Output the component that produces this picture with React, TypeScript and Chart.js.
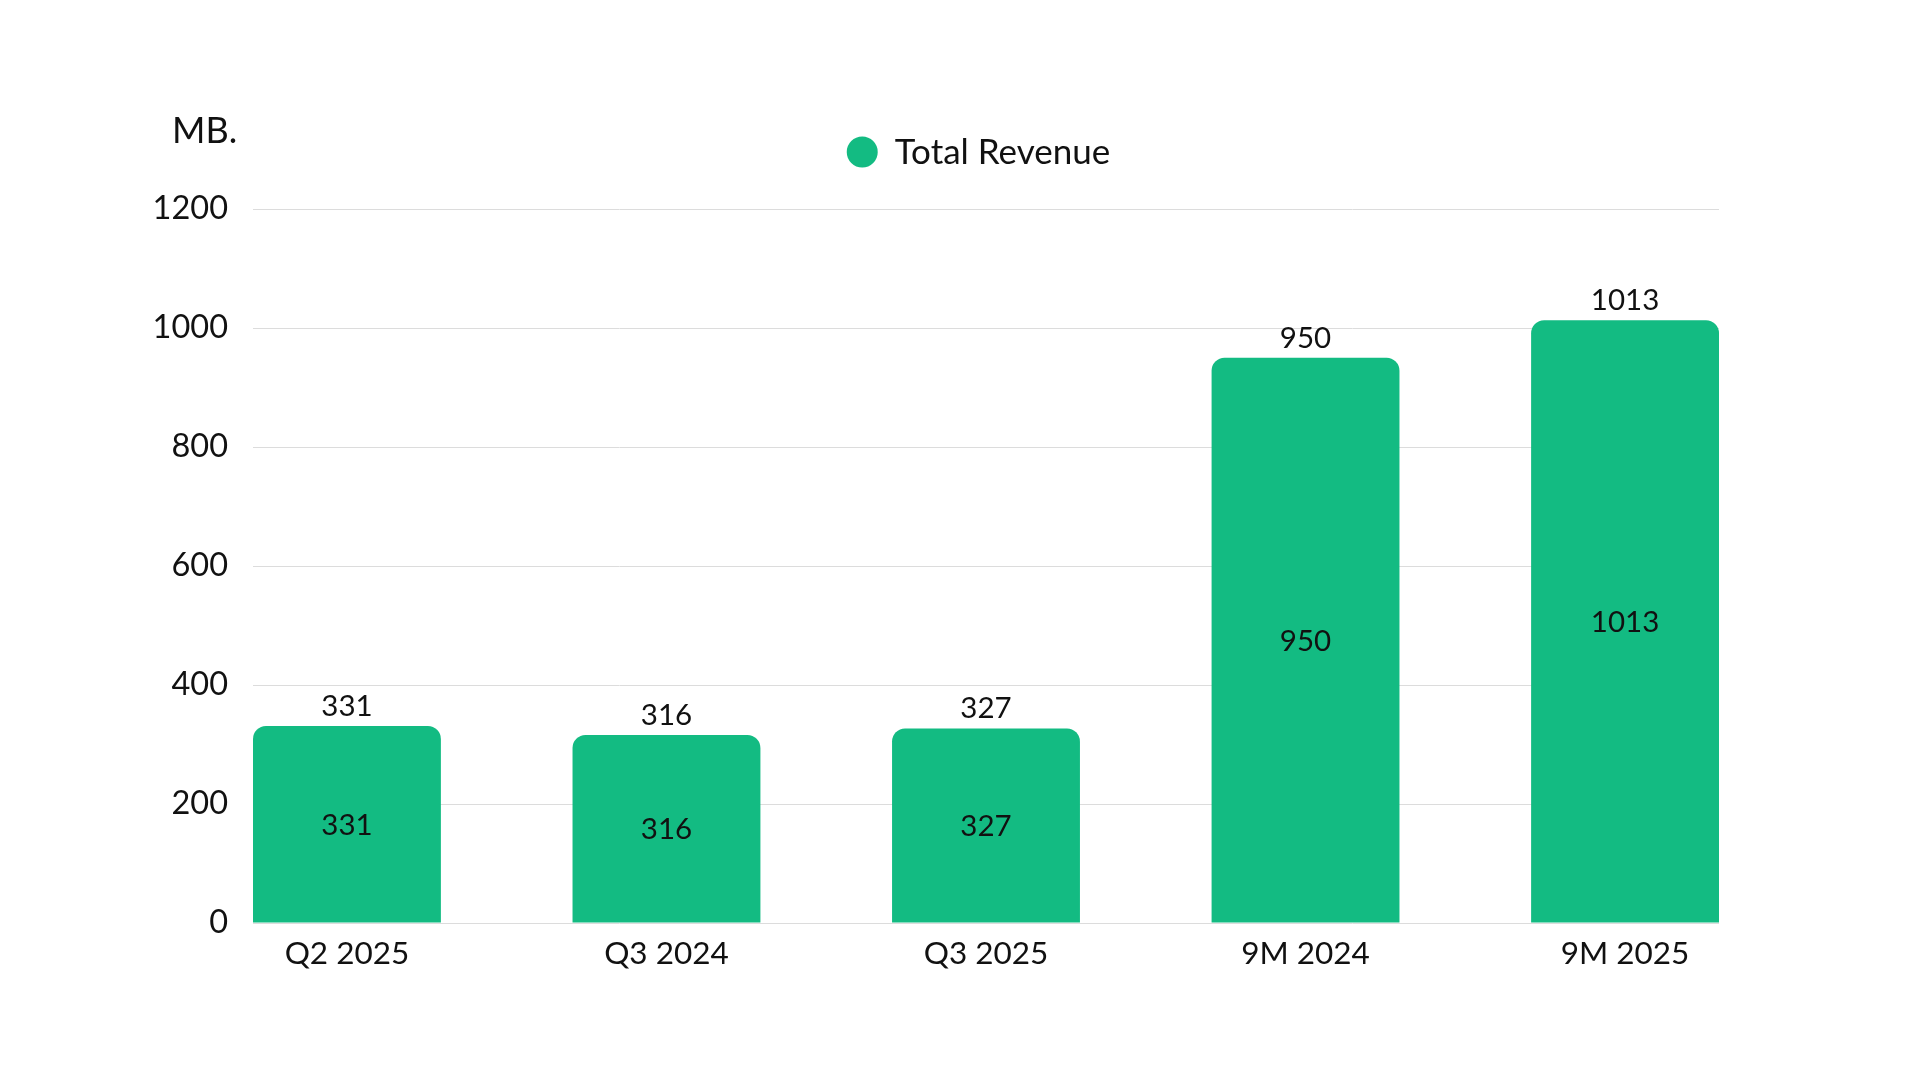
import React, { useEffect, useRef } from 'react';
import { Chart, registerables } from 'chart.js';

Chart.register(...registerables);

const categories = ['Q2 2025', 'Q3 2024', 'Q3 2025', '9M 2024', '9M 2025'];
const totalRevenue = [331, 316, 327, 950, 1013];
const yTicks = [0, 200, 400, 600, 800, 1000, 1200];
const seriesName = 'Total Revenue';
const unitLabel = 'MB.';

const GREEN = '#13BB82';
const TEXT = '#111111';
const FONT = 'Lato, "Noto Sans", sans-serif';

export default function App() {
  const ref = useRef<HTMLCanvasElement>(null);

  useEffect(() => {
    document.body.style.margin = '0';
    const canvas = ref.current;
    if (!canvas) return;
    const halfBar = 0.294;

    const valueLabels = {
      id: 'valueLabels',
      afterDatasetsDraw(chart: any) {
        const c = chart.ctx;
        const meta = chart.getDatasetMeta(0);
        c.save();
        c.fillStyle = TEXT;
        c.font = `29.5px ${FONT}`;
        c.textAlign = 'center';
        meta.data.forEach((bar: any, i: number) => {
          const v = totalRevenue[i];
          const { x, y, base } = bar.getProps(['x', 'y', 'base'], true);
          c.textBaseline = 'alphabetic';
          c.fillText(String(v), x, y - 10);
          c.textBaseline = 'middle';
          c.fillText(String(v), x, (y + base) / 2 + 1);
        });
        c.restore();
      },
    };

    const header = {
      id: 'header',
      afterDraw(chart: any) {
        const c = chart.ctx;
        c.save();
        c.fillStyle = TEXT;
        c.textAlign = 'left';
        c.textBaseline = 'middle';
        c.font = `36px ${FONT}`;
        c.fillText(unitLabel, 172, 131);

        c.font = `35px ${FONT}`;
        const tw = c.measureText(seriesName).width;
        const r = 15.5;
        const gap = 17;
        const total = 2 * r + gap + tw;
        const lx = 978.5 - total / 2;
        c.fillStyle = GREEN;
        c.beginPath();
        c.arc(lx + r, 152, r, 0, Math.PI * 2);
        c.fill();
        c.fillStyle = TEXT;
        c.fillText(seriesName, lx + 2 * r + gap, 153);
        c.restore();
      },
    };

    const chart = new Chart(canvas, {
      type: 'bar',
      data: {
        datasets: [
          {
            label: seriesName,
            data: categories.map((_, i) => ({ x: i, y: totalRevenue[i] })),
            backgroundColor: GREEN,
            borderRadius: 13,
            borderSkipped: 'start',
            barPercentage: 0.588,
            categoryPercentage: 1,
          } as any,
        ],
      },
      options: {
        responsive: false,
        animation: false,
        layout: { padding: { top: 209, right: 201, bottom: 0, left: 0 } },
        plugins: {
          legend: { display: false },
          tooltip: { enabled: false },
          title: { display: false },
        },
        scales: {
          x: {
            type: 'linear',
            offset: false,
            min: -halfBar,
            max: categories.length - 1 + halfBar,
            grid: { display: false, offset: false },
            border: { display: false },
            afterBuildTicks: (s: any) => {
              s.ticks = categories.map((_, i) => ({ value: i }));
            },
            afterFit: (s: any) => {
              s.height = 157;
            },
            ticks: {
              callback: (v: any) => categories[v] ?? '',
              font: { size: 31.5, family: FONT },
              color: TEXT,
              padding: 4,
              maxRotation: 0,
              autoSkip: false,
            },
          },
          y: {
            min: 0,
            max: 1200,
            afterBuildTicks: (s: any) => {
              s.ticks = yTicks.map((v) => ({ value: v }));
            },
            afterFit: (s: any) => {
              s.width = 253;
            },
            grid: { color: '#dcdcdc', drawTicks: false, lineWidth: 1 },
            border: { display: false },
            ticks: {
              callback: (v: any) => String(v),
              font: { size: 32.5, family: FONT },
              color: TEXT,
              padding: 25,
            },
          },
        },
      } as any,
      plugins: [valueLabels, header],
    });

    return () => chart.destroy();
  }, []);

  return (
    <div style={{ width: 1920, height: 1080, background: '#fff' }}>
      <canvas ref={ref} width={1920} height={1080} style={{ display: 'block', width: 1920, height: 1080 }} />
    </div>
  );
}
